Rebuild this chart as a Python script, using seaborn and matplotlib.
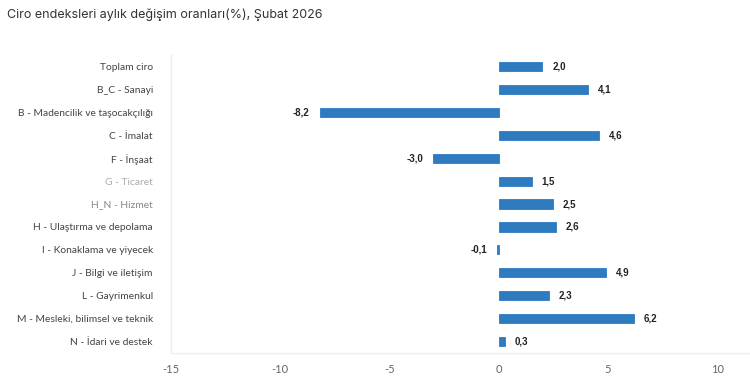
import pandas as pd
import seaborn as sns
from matplotlib import pyplot as plt

categories = ["Toplam ciro", "B_C - Sanayi", "B - Madencilik ve taşocakçılığı",
              "C - İmalat", "F - İnşaat", "G - Ticaret", "H_N - Hizmet",
              "H - Ulaştırma ve depolama", "I - Konaklama ve yiyecek",
              "J - Bilgi ve iletişim", "L - Gayrimenkul",
              "M - Mesleki, bilimsel ve teknik", "N - İdari ve destek"]
values = [2.0, 4.1, -8.2, 4.6, -3.0, 1.5, 2.5, 2.6, -0.1, 4.9, 2.3, 6.2, 0.3]
x_ticks = [-15, -10, -5, 0, 5, 10]

df = pd.DataFrame({"kategori": categories, "deger": values})

sns.set_style("white")
plt.rcParams['font.family'] = ['Lato', 'DejaVu Sans']

fig = plt.figure(figsize=(7.5, 3.85), dpi=100)
ax = fig.add_axes([0.228, 0.083, 0.772, 0.774])

sns.barplot(data=df, x="deger", y="kategori", orient="h", color="#2e7bc0",
            width=0.4, saturation=1, edgecolor="#2e7bc0", linewidth=0.6, ax=ax)

ax.set_xlim(-15, 11.5)
ax.set_ylim(12.5, -0.5)
ax.set_xticks(x_ticks)
ax.set_xticklabels([str(t) for t in x_ticks])
ax.set_xlabel("")
ax.set_ylabel("")
ax.tick_params(axis="x", length=0, pad=8, labelsize=8, labelcolor="#666666")
ax.tick_params(axis="y", length=0, pad=13, labelsize=7.4, labelcolor="#444444")
for lbl in ax.get_yticklabels():
    if lbl.get_text() == "G - Ticaret":
        lbl.set_color("#aaaaaa")
    elif lbl.get_text() == "H_N - Hizmet":
        lbl.set_color("#888888")

for side in ["top", "right"]:
    ax.spines[side].set_visible(False)
for side in ["left", "bottom"]:
    ax.spines[side].set_color("#eeeeee")
    ax.spines[side].set_linewidth(1)

# value labels
for i, v in enumerate(values):
    txt = f"{v:.1f}".replace(".", ",")
    if v >= 0:
        ax.annotate(txt, (v, i), xytext=(7, 0), textcoords="offset points",
                    ha="left", va="center", fontsize=7, fontweight="bold",
                    family=["Liberation Sans", "DejaVu Sans"], color="#222222")
    else:
        ax.annotate(txt, (v, i), xytext=(-7, 0), textcoords="offset points",
                    ha="right", va="center", fontsize=7, fontweight="bold",
                    family=["Liberation Sans", "DejaVu Sans"], color="#222222")

fig.text(0.009, 0.962, "Ciro endeksleri aylık değişim oranları(%), Şubat 2026",
         ha="left", va="center", fontsize=9, color="#333333",
         family=["Inter", "DejaVu Sans"])

fig.savefig("out.png", dpi=100)
